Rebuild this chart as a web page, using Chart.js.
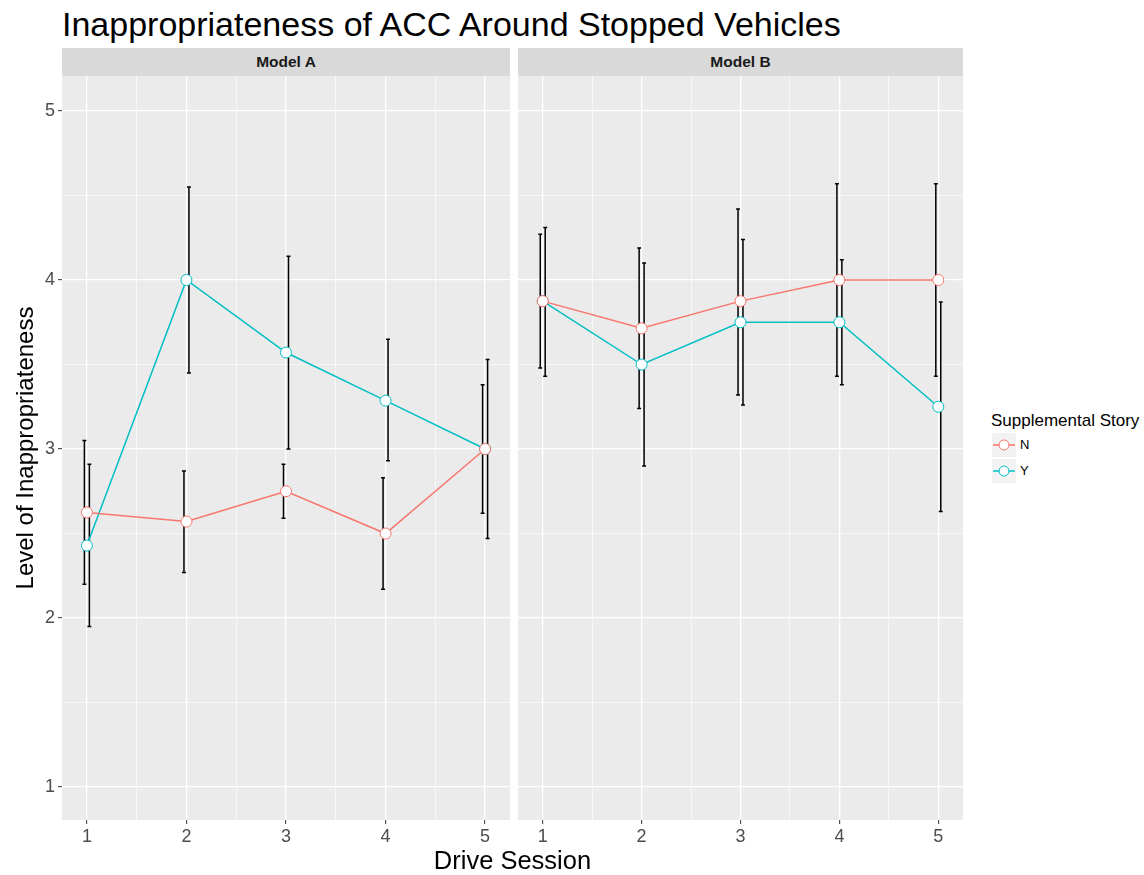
<!DOCTYPE html>
<html>
<head>
<meta charset="utf-8">
<script src="https://cdn.jsdelivr.net/npm/chart.js@4.4.1/dist/chart.umd.min.js"></script>
<style>
  body { margin: 0; background: #fff; font-family: "Liberation Sans", Arial, sans-serif; }
  #wrap { position: relative; width: 1144px; height: 875px; overflow: hidden; }
  .abs { position: absolute; white-space: nowrap; }
  #title { left: 62px; top: 5px; font-size: 34px; line-height: 38px; color: #000; }
  .strip { top: 48px; height: 28px; background: #D9D9D9; color: #1A1A1A; font-weight: bold;
           font-size: 15.5px; line-height: 28px; text-align: center; }
  #stripA { left: 62px; width: 448px; }
  #stripB { left: 518px; width: 445px; }
  #xtitle { left: 62px; width: 901px; top: 845px; font-size: 25.5px; line-height: 30px; text-align: center; color: #000; }
  #panelA { left: 0; top: 76px; }
  #panelB { left: 518px; top: 76px; }
  #legTitle { left: 991px; top: 411px; font-size: 17px; line-height: 20px; color: #000; }
  .key { width: 24px; height: 24px; background: #F2F2F2; }
  .keyLab { font-size: 13px; line-height: 16px; color: #000; }
</style>
</head>
<body>
<div id="wrap">
  <div class="abs" id="title">Inappropriateness of ACC Around Stopped Vehicles</div>
  <div class="abs strip" id="stripA">Model A</div>
  <div class="abs strip" id="stripB">Model B</div>
  <canvas class="abs" id="panelA" width="512" height="799"></canvas>
  <canvas class="abs" id="panelB" width="445" height="799"></canvas>
  <div class="abs" id="xtitle">Drive Session</div>

  <div class="abs" id="legTitle">Supplemental Story</div>
  <div class="abs key" style="left:992px; top:433px;">
    <svg width="24" height="24"><line x1="1" y1="12" x2="23" y2="12" stroke="#F8766D" stroke-width="1.5"/><circle cx="12" cy="12" r="5" fill="#fff" stroke="#F8766D" stroke-width="1"/></svg>
  </div>
  <div class="abs key" style="left:992px; top:459px;">
    <svg width="24" height="24"><line x1="1" y1="12" x2="23" y2="12" stroke="#00BFC4" stroke-width="1.5"/><circle cx="12" cy="12" r="5" fill="#fff" stroke="#00BFC4" stroke-width="1"/></svg>
  </div>
  <div class="abs keyLab" style="left:1020px; top:437px;">N</div>
  <div class="abs keyLab" style="left:1020px; top:463px;">Y</div>
</div>

<script>
// data
const sessions = [1, 2, 3, 4, 5];
const xGrid = [1, 1.5, 2, 2.5, 3, 3.5, 4, 4.5, 5];
const yGrid = [1, 1.5, 2, 2.5, 3, 3.5, 4, 4.5, 5];

const modelA_N = [2.625, 2.571, 2.75, 2.5, 3.0];
const modelA_N_lo = [2.20, 2.27, 2.59, 2.17, 2.62];
const modelA_N_hi = [3.05, 2.87, 2.91, 2.83, 3.38];
const modelA_Y = [2.429, 4.0, 3.571, 3.286, 3.0];
const modelA_Y_lo = [1.95, 3.45, 3.0, 2.93, 2.47];
const modelA_Y_hi = [2.91, 4.55, 4.14, 3.65, 3.53];

const modelB_N = [3.875, 3.714, 3.875, 4.0, 4.0];
const modelB_N_lo = [3.48, 3.24, 3.32, 3.43, 3.43];
const modelB_N_hi = [4.27, 4.19, 4.42, 4.57, 4.57];
const modelB_Y = [3.875, 3.5, 3.75, 3.75, 3.25];
const modelB_Y_lo = [3.43, 2.90, 3.26, 3.38, 2.63];
const modelB_Y_hi = [4.31, 4.10, 4.24, 4.12, 3.87];

const colN = '#F8766D';
const colY = '#00BFC4';

// grey panel background
const panelBg = {
  id: 'panelBg',
  beforeDraw(chart) {
    const { ctx, chartArea: a } = chart;
    ctx.save();
    ctx.fillStyle = '#EBEBEB';
    ctx.fillRect(a.left, a.top, a.right - a.left, a.bottom - a.top);
    ctx.restore();
  }
};

// error bars, dodged a bit per series
const errorBars = {
  id: 'errorBars',
  beforeDatasetsDraw(chart) {
    const { ctx, scales: { x, y } } = chart;
    ctx.save();
    ctx.strokeStyle = '#000';
    ctx.lineWidth = 1.5;
    chart.data.datasets.forEach(ds => {
      ds.lo.forEach((lo, i) => {
        const xv = sessions[i] + ds.dodge;
        const xc = x.getPixelForValue(xv);
        const x0 = x.getPixelForValue(xv - 0.02);
        const x1 = x.getPixelForValue(xv + 0.02);
        const yl = y.getPixelForValue(lo);
        const yh = y.getPixelForValue(ds.hi[i]);
        ctx.beginPath();
        ctx.moveTo(xc, yl); ctx.lineTo(xc, yh);
        ctx.moveTo(x0, yl); ctx.lineTo(x1, yl);
        ctx.moveTo(x0, yh); ctx.lineTo(x1, yh);
        ctx.stroke();
      });
    });
    ctx.restore();
  }
};

const isMajor = v => Number.isInteger(v);

function series(label, mean, lo, hi, color, dodge) {
  return {
    label: label,
    data: sessions.map((s, i) => ({ x: s, y: mean[i] })),
    borderColor: color,
    borderWidth: 1.5,
    pointRadius: 5.5,
    pointBorderWidth: 1,
    pointBackgroundColor: '#fff',
    pointBorderColor: color,
    tension: 0,
    lo: lo, hi: hi, dodge: dodge
  };
}

function makePanel(id, nMean, nLo, nHi, yMean, yLo, yHi, showY) {
  const gridOpts = {
    color: '#fff',
    lineWidth: c => isMajor(c.tick.value) ? 1.3 : 0.6,
    tickColor: c => isMajor(c.tick.value) ? '#333' : 'rgba(0,0,0,0)',
    tickLength: 4,
    tickWidth: 1
  };
  new Chart(document.getElementById(id), {
    type: 'line',
    data: {
      datasets: [
        series('N', nMean, nLo, nHi, colN, -0.025),
        series('Y', yMean, yLo, yHi, colY, 0.025)
      ]
    },
    options: {
      responsive: false,
      animation: false,
      events: [],
      layout: { autoPadding: false, padding: { top: 0, left: 0, right: showY ? 2 : 0, bottom: 0 } },
      plugins: { legend: { display: false }, tooltip: { enabled: false } },
      scales: {
        x: {
          type: 'linear', min: 0.75, max: 5.25,
          afterBuildTicks: s => { s.ticks = xGrid.map(v => ({ value: v })); },
          ticks: {
            callback: v => isMajor(v) ? String(v) : '',
            color: '#4D4D4D', font: { size: 18, family: '"Liberation Sans", Arial' },
            padding: 2, autoSkip: false, maxRotation: 0
          },
          grid: gridOpts,
          border: { display: false },
          afterFit: s => { s.height = 55; s.paddingLeft = 0; s.paddingRight = 0; }
        },
        y: {
          type: 'linear', min: 0.805, max: 5.207,
          afterBuildTicks: s => { s.ticks = yGrid.map(v => ({ value: v })); },
          ticks: {
            display: showY,
            callback: v => isMajor(v) ? String(v) : '',
            color: '#4D4D4D', font: { size: 18, family: '"Liberation Sans", Arial' },
            padding: 3
          },
          grid: Object.assign({}, gridOpts, { drawTicks: showY }),
          border: { display: false },
          title: {
            display: showY, text: 'Level of Inappropriateness', color: '#000',
            font: { size: 24, family: '"Liberation Sans", Arial' },
            padding: { top: 12, bottom: 0 }
          },
          afterFit: s => { s.width = showY ? 62 : 0; s.paddingTop = 0; s.paddingBottom = 0; }
        }
      }
    },
    plugins: [panelBg, errorBars]
  });
}

makePanel('panelA', modelA_N, modelA_N_lo, modelA_N_hi, modelA_Y, modelA_Y_lo, modelA_Y_hi, true);
makePanel('panelB', modelB_N, modelB_N_lo, modelB_N_hi, modelB_Y, modelB_Y_lo, modelB_Y_hi, false);
</script>
</body>
</html>
